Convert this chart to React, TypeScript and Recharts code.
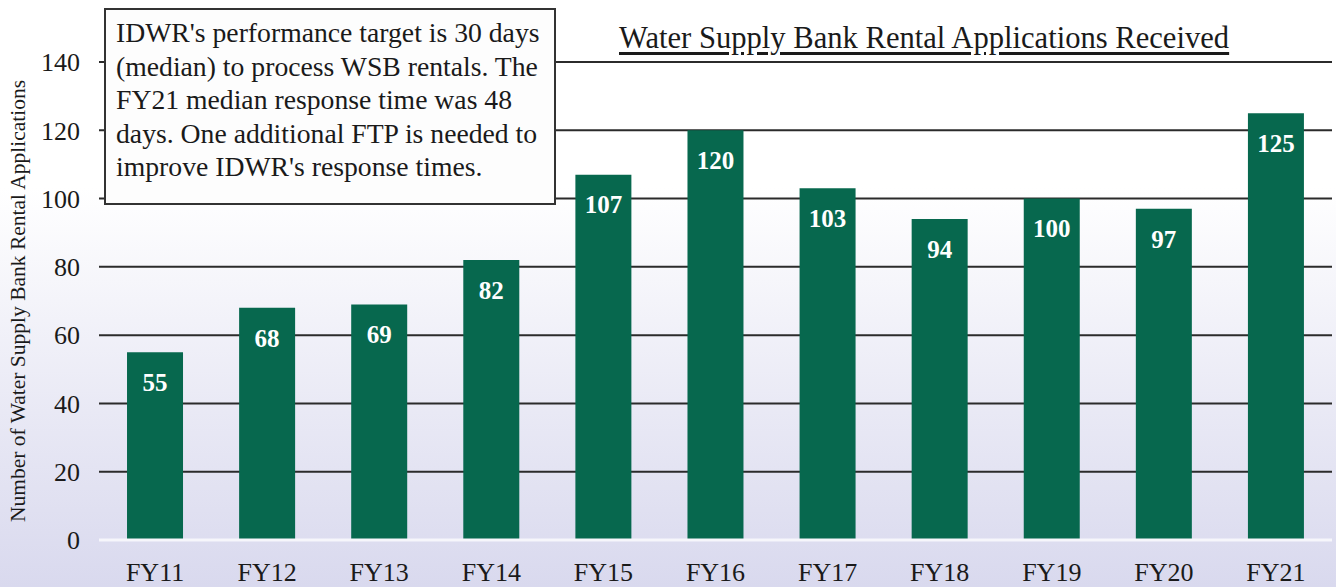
import { BarChart, Bar, XAxis, YAxis, CartesianGrid, ReferenceLine, LabelList } from "recharts";

const years = ["FY11", "FY12", "FY13", "FY14", "FY15", "FY16", "FY17", "FY18", "FY19", "FY20", "FY21"];
const applications = [55, 68, 69, 82, 107, 120, 103, 94, 100, 97, 125];
const yTicks = [0, 20, 40, 60, 80, 100, 120, 140];

const noteLines = [
  "IDWR's performance target is 30 days",
  "(median) to process WSB rentals. The",
  "FY21 median response time was 48",
  "days. One additional FTP is needed to",
  "improve IDWR's response times.",
];

const data = years.map((year, i) => ({ year, count: applications[i] }));

const serif = "'Liberation Serif', 'Times New Roman', serif";

export default function App() {
  return (
    <div
      style={{
        position: "absolute",
        left: 0,
        top: 0,
        width: 1336,
        height: 587,
        fontFamily: serif,
        background: "linear-gradient(to bottom, #ffffff 0%, #ffffff 32%, #e9e9f5 70%, #d9d9ee 100%)",
      }}
    >
      <BarChart
        width={1336}
        height={587}
        data={data}
        margin={{ top: 62, right: 4, left: 0, bottom: 0 }}
        barCategoryGap="25%"
      >
        <CartesianGrid vertical={false} stroke="#2b2b2b" strokeWidth={2} />
        <XAxis
          dataKey="year"
          height={47}
          axisLine={false}
          tickLine={false}
          tickMargin={17}
          tick={{ fill: "#1a1a1a", fontSize: 26, fontFamily: serif }}
          interval={0}
        />
        <YAxis
          width={99}
          domain={[0, 140]}
          ticks={yTicks}
          axisLine={false}
          tickLine={false}
          tickMargin={13}
          tick={{ fill: "#1a1a1a", fontSize: 26, fontFamily: serif }}
          label={{
            value: "Number of Water Supply Bank Rental Applications",
            angle: -90,
            position: "center",
            dx: -32,
            style: { fill: "#1a1a1a", fontSize: 21.5, fontFamily: serif },
          }}
        />
        <Bar dataKey="count" fill="#07684e" isAnimationActive={false}>
          <LabelList
            dataKey="count"
            position="insideTop"
            offset={21}
            style={{ fill: "#ffffff", fontSize: 25, fontWeight: 700, fontFamily: serif }}
          />
        </Bar>
        <ReferenceLine y={0} stroke="#f6f6fb" strokeWidth={3} />
      </BarChart>

      <div
        style={{
          position: "absolute",
          left: 104,
          top: 8,
          width: 452,
          height: 197,
          background: "#fdfdfd",
          border: "2px solid #333",
          padding: "6px 0 0 10px",
          boxSizing: "border-box",
          fontSize: 27.7,
          lineHeight: "33.5px",
          color: "#1a1a1a",
          whiteSpace: "nowrap",
        }}
      >
        {noteLines.map((line) => (
          <div key={line}>{line}</div>
        ))}
      </div>

      <div
        style={{
          position: "absolute",
          left: 619,
          top: 21,
          fontSize: 30.6,
          color: "#1a1a1a",
          textDecoration: "underline",
          textUnderlineOffset: 4,
          whiteSpace: "nowrap",
        }}
      >
        Water Supply Bank Rental Applications Received
      </div>
    </div>
  );
}
